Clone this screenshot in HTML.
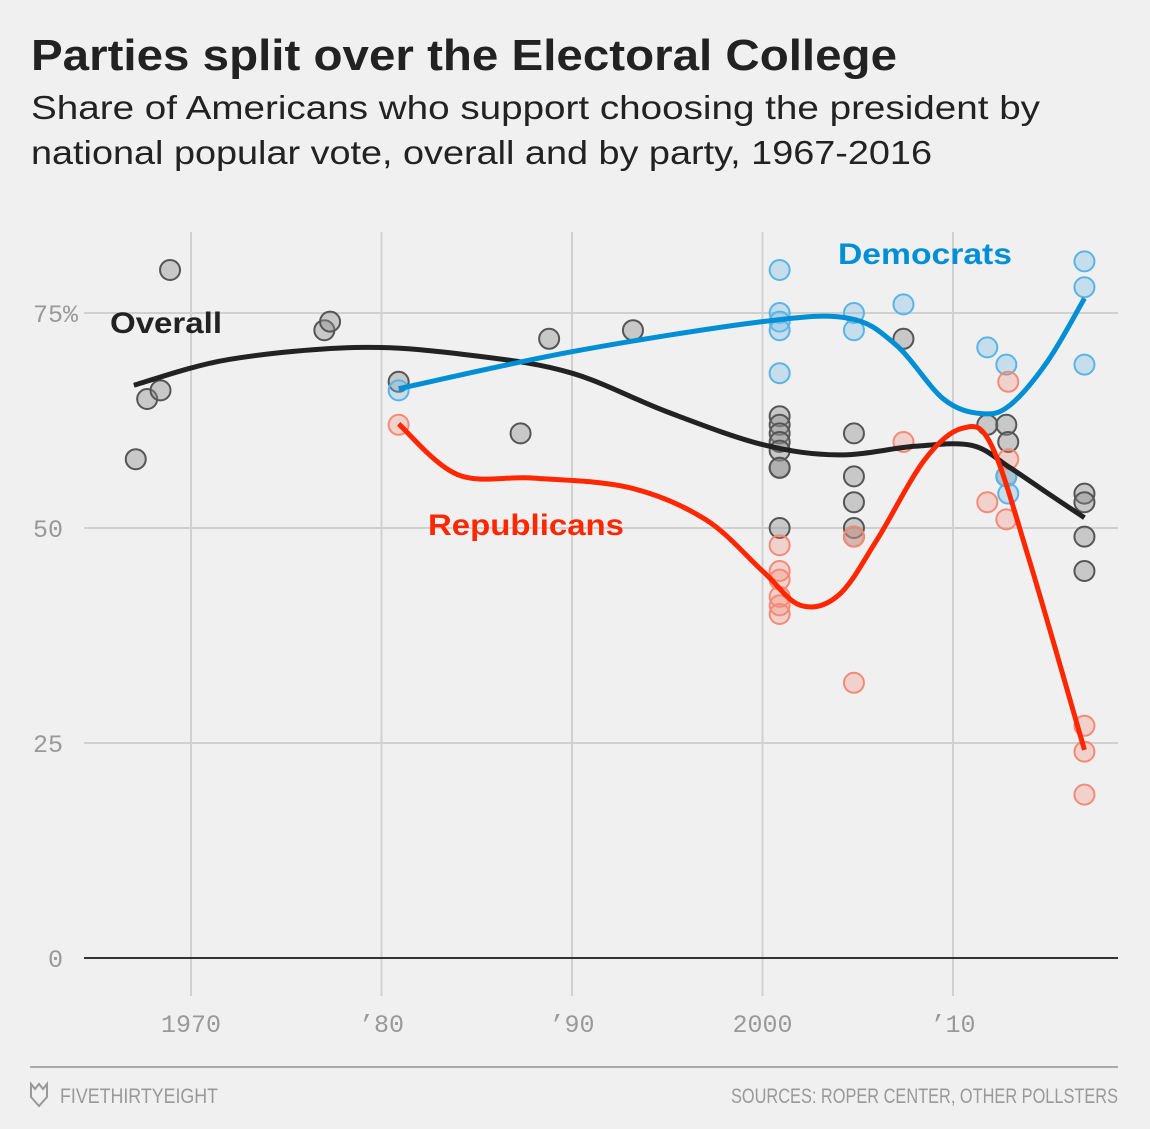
<!DOCTYPE html>
<html><head><meta charset="utf-8"><style>
body{margin:0;background:#f0f0f0;width:1150px;height:1124px;overflow:hidden;font-family:"Liberation Sans",sans-serif}
</style></head><body>
<svg width="1150" height="1124">
<text x="31" y="70" font-size="44" font-weight="bold" fill="#222" textLength="866" lengthAdjust="spacingAndGlyphs">Parties split over the Electoral College</text>
<text x="31" y="119" font-size="33" fill="#222" textLength="1009" lengthAdjust="spacingAndGlyphs">Share of Americans who support choosing the president by</text>
<text x="31" y="164" font-size="33" fill="#222" textLength="901" lengthAdjust="spacingAndGlyphs">national popular vote, overall and by party, 1967-2016</text>
<g id="grid"></g>
<g id="marks"></g>
<text x="110" y="333" font-size="30" font-weight="bold" fill="#222" textLength="112" lengthAdjust="spacingAndGlyphs">Overall</text>
<text x="838" y="264" font-size="30" font-weight="bold" fill="#008fd5" textLength="174" lengthAdjust="spacingAndGlyphs">Democrats</text>
<text x="428" y="535" font-size="30" font-weight="bold" fill="#ff2700" textLength="196" lengthAdjust="spacingAndGlyphs">Republicans</text>
<line x1="30" y1="1067" x2="1118" y2="1067" stroke="#aaa" stroke-width="2"/>
<path d="M31 1084 L35 1089 L39 1084 L43 1089 L47 1084 L47 1097 L39 1106 L31 1097Z" fill="none" stroke="#999" stroke-width="2"/>
<text x="60" y="1103" font-size="21" fill="#999" textLength="158" lengthAdjust="spacingAndGlyphs">FIVETHIRTYEIGHT</text>
<text x="731" y="1103" font-size="21" fill="#999" textLength="387" lengthAdjust="spacingAndGlyphs">SOURCES:  ROPER CENTER, OTHER POLLSTERS</text>
</svg>
<script>
const yTicks=[0,25,50,75];
const yTickLabels=["0","25","50","75%"];
const xTicks=[1970,1980,1990,2000,2010];
const xTickLabels=["1970","’80","’90","2000","’10"];
const overallYears=[1967.1,1967.7,1968.4,1968.9,1977.0,1977.3,1980.9,1987.3,1988.8,1993.2,2000.9,2000.9,2000.9,2000.9,2000.9,2000.9,2000.9,2000.9,2004.8,2004.8,2004.8,2004.8,2004.8,2007.4,2011.8,2012.8,2012.9,2012.8,2016.9,2016.9,2016.9,2016.9];
const overallValues=[58,65,66,80,73,74,67,61,72,73,63,62,61,60,59,57,57,50,61,56,53,50,49,72,62,62,60,56,54,53,49,45];
const demYears=[1980.9,2000.9,2000.9,2000.9,2000.9,2000.9,2004.8,2004.8,2007.4,2011.8,2012.8,2012.8,2012.9,2016.9,2016.9,2016.9];
const demValues=[66,80,75,74,73,68,75,73,76,71,69,56,54,81,78,69];
const repYears=[1980.9,2000.9,2000.9,2000.9,2000.9,2000.9,2000.9,2004.8,2004.8,2007.4,2011.8,2012.8,2012.9,2012.9,2016.9,2016.9,2016.9];
const repValues=[62,48,45,44,42,41,40,49,32,60,53,51,67,58,27,24,19];
const overallTrendYears=[1967,1972,1979,1985,1990,1995,2000,2004,2008,2011,2013,2015,2016.9];
const overallTrend=[66.6,69.6,71,70,68,63.5,59.7,58.5,59.5,59.6,57,54,51.2];
const demTrendYears=[1980.9,1990,2000,2004.5,2007,2009.5,2011.5,2013,2015,2016.9];
const demTrend=[66.2,70.5,74,74.4,71.3,65,63.3,64.3,69.5,76.7];
const repTrendYears=[1980.9,1984,1988,1993,1997,2000,2002,2004,2006,2008.5,2010.5,2012,2014,2016.9];
const repTrend=[62.1,56.2,55.8,54.7,51,45,41,42.2,48.6,57.9,61.6,59.7,46.3,24.2];

const NS="http://www.w3.org/2000/svg";
const xs=y=>191+(y-1970)*19.05;
const ys=v=>958-v*8.6;
function mk(tag,attrs,parent){const e=document.createElementNS(NS,tag);for(const k in attrs)e.setAttribute(k,attrs[k]);parent.appendChild(e);return e;}
const grid=document.getElementById('grid'),marks=document.getElementById('marks');
xTicks.forEach((t,i)=>{
  const l=mk('line',{x1:xs(t),x2:xs(t),y1:232,y2:996,stroke:'#d0d0d0','stroke-width':2},grid);
  
  
  const tx=mk('text',{x:xs(t),y:1032,'text-anchor':'middle','font-size':25,fill:'#999','font-family':'Liberation Mono, monospace'},grid);
  tx.textContent=xTickLabels[i];
  
  
});
yTicks.forEach((t,i)=>{
  const l=mk('line',{x1:84,x2:1118,y1:ys(t),y2:ys(t),stroke:t===0?'#333':'#d0d0d0','stroke-width':2},grid);
  
  
  const tx=mk('text',{x:t===75?33:(t===0?48:33),y:ys(t)+9,'font-size':25,fill:'#999','font-family':'Liberation Mono, monospace'},grid);
  tx.textContent=yTickLabels[i];
  
  
});
function dots(yrs,vals,fill,stroke,name){
  yrs.forEach((y,i)=>{
    const c=mk('circle',{cx:xs(y),cy:ys(vals[i]),r:10,fill:fill,stroke:stroke,'stroke-width':2},marks);
    
    
  });
}
function curve(yrs,vals,color,name){
  const p=yrs.map((y,i)=>[xs(y),ys(vals[i])]);
  let d='M'+p[0][0]+' '+p[0][1];
  for(let i=0;i<p.length-1;i++){
    const p0=p[i-1]||p[i],p1=p[i],p2=p[i+1],p3=p[i+2]||p2;
    d+=' C'+(p1[0]+(p2[0]-p0[0])/6)+' '+(p1[1]+(p2[1]-p0[1])/6)+' '+(p2[0]-(p3[0]-p1[0])/6)+' '+(p2[1]-(p3[1]-p1[1])/6)+' '+p2[0]+' '+p2[1];
  }
  const e=mk('path',{d:d,fill:'none',stroke:color,'stroke-width':5},marks);
  
  
}
dots(overallYears,overallValues,'rgba(140,140,140,0.4)','#555','overall-point');
dots(demYears,demValues,'rgba(120,190,230,0.35)','#5ab4e6','democrat-point');
dots(repYears,repValues,'rgba(245,140,120,0.3)','#f58a78','republican-point');
curve(overallTrendYears,overallTrend,'#222','overall-trend-line');
curve(demTrendYears,demTrend,'#008fd5','democrat-trend-line');
curve(repTrendYears,repTrend,'#ff2700','republican-trend-line');
</script>
</body></html>
